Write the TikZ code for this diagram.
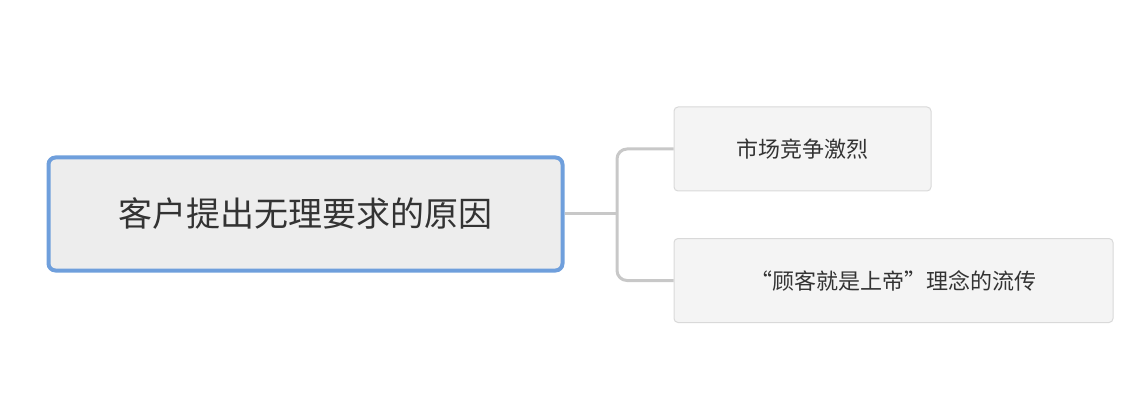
\documentclass[tikz,border=0pt]{standalone}
\usepackage{fontspec}
\newfontfamily\cjk{Noto Sans CJK SC}
\definecolor{mainblue}{HTML}{6F9FDC}
\definecolor{mainfill}{HTML}{EDEDED}
\definecolor{childfill}{HTML}{F4F4F4}
\definecolor{childline}{HTML}{D9D9D9}
\definecolor{conn}{HTML}{C8C8C8}
\begin{document}
\begin{tikzpicture}[x=1pt,y=-1pt,
  mainbox/.style={draw=mainblue,line width=4pt,fill=mainfill,rounded corners=7pt,minimum width=514pt,minimum height=113pt,font=\cjk\fontsize{34}{40}\selectfont,text=black!80},
  childbox/.style={draw=childline,line width=1pt,fill=childfill,rounded corners=4pt,minimum height=84pt,font=\cjk\fontsize{22}{26}\selectfont,text=black!80},
  link/.style={draw=conn,line width=3pt,rounded corners=10pt}]
\useasboundingbox (0,0) rectangle (1148,406);
\node[mainbox] (m) at (305.5,214) {客户提出无理要求的原因};
\node[childbox,minimum width=257pt] (a) at (802.5,149) {市场竞争激烈};
\node[childbox,minimum width=439pt] (b) at (893.5,280.5) {“顾客就是上帝”理念的流传};
\draw[link] (m.east) -- (617,214);
\draw[link] (a.west) -- (617,149) -- (617,280.5) -- (b.west);
\end{tikzpicture}
\end{document}
